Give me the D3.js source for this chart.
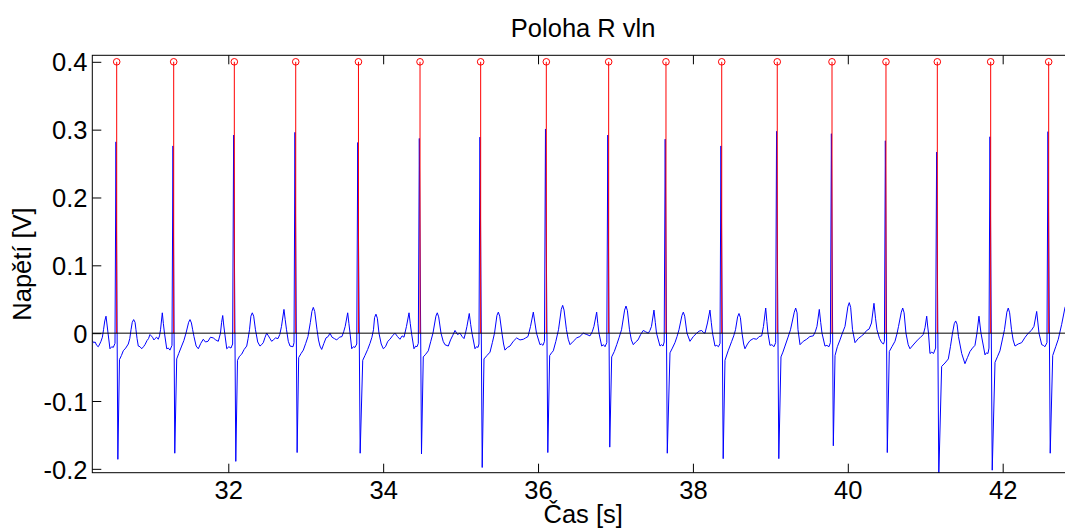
<!DOCTYPE html>
<html>
<head>
<meta charset="utf-8">
<script src="https://cdn.jsdelivr.net/npm/d3@7"></script>
<style>
  html, body { margin: 0; padding: 0; background: #fff; }
  svg { display: block; }
  text { font-family: "Liberation Sans", Arial, Helvetica, sans-serif; fill: #000; }
</style>
</head>
<body>
<svg id="chart" width="1065" height="528"></svg>
<script>
// ECG trace: [time s, voltage V]
const ecgTrace = [
  [30.244,-0.011],[30.262,-0.014],[30.280,-0.013],[30.301,-0.018],[30.321,-0.020],[30.340,-0.016],[30.356,-0.012],[30.374,-0.006],[30.389,0.005],[30.405,0.018],[30.421,0.025],[30.435,0.012],[30.447,0.000],[30.472,-0.023],[30.495,-0.020],[30.515,-0.021],[30.537,-0.015],[30.550,0.282],[30.574,-0.186],
  [30.595,-0.039],[30.620,-0.033],[30.644,-0.026],[30.675,-0.022],[30.709,-0.016],[30.728,-0.008],[30.744,0.005],[30.760,0.016],[30.778,0.020],[30.796,0.016],[30.808,0.005],[30.822,-0.008],[30.838,-0.019],[30.860,-0.020],[30.882,-0.023],[30.905,-0.020],[30.924,-0.017],[30.950,-0.011],[30.970,-0.008],[30.989,-0.002],[31.005,-0.004],[31.021,-0.006],[31.040,-0.010],[31.054,-0.008],[31.075,-0.006],[31.096,-0.009],[31.112,-0.004],[31.125,0.005],[31.148,0.030],[31.162,0.014],[31.176,0.000],[31.205,-0.023],[31.226,-0.022],[31.247,-0.025],[31.273,-0.018],[31.286,0.276],[31.309,-0.177],
  [31.334,-0.038],[31.360,-0.030],[31.398,-0.019],[31.426,-0.011],[31.454,0.000],[31.488,0.016],[31.506,0.020],[31.524,0.015],[31.540,0.005],[31.557,-0.005],[31.585,-0.019],[31.613,-0.023],[31.645,-0.015],[31.677,-0.009],[31.705,-0.013],[31.738,-0.012],[31.770,-0.006],[31.806,-0.007],[31.838,-0.010],[31.871,-0.012],[31.899,0.000],[31.914,0.016],[31.928,0.026],[31.941,0.012],[31.954,0.000],[31.980,-0.023],[32.008,-0.020],[32.035,-0.022],[32.056,-0.016],[32.069,0.292],[32.097,-0.189],
  [32.119,-0.040],[32.145,-0.034],[32.173,-0.031],[32.205,-0.024],[32.238,-0.019],[32.256,-0.008],[32.274,0.005],[32.292,0.025],[32.310,0.030],[32.328,0.025],[32.351,0.005],[32.380,-0.013],[32.409,-0.019],[32.430,-0.017],[32.452,-0.014],[32.475,-0.006],[32.496,0.000],[32.518,-0.004],[32.539,-0.008],[32.560,-0.012],[32.581,-0.010],[32.610,-0.007],[32.642,-0.008],[32.665,-0.002],[32.687,0.010],[32.719,0.035],[32.735,0.020],[32.752,0.005],[32.775,-0.012],[32.797,-0.019],[32.836,-0.020],[32.849,-0.014],[32.861,0.296],[32.889,-0.176],
  [32.909,-0.036],[32.940,-0.030],[32.969,-0.025],[33.000,-0.015],[33.029,-0.005],[33.060,0.016],[33.080,0.032],[33.098,0.038],[33.116,0.032],[33.146,0.005],[33.165,-0.010],[33.184,-0.019],[33.206,-0.024],[33.235,-0.015],[33.262,-0.007],[33.290,-0.005],[33.313,0.000],[33.340,-0.006],[33.370,-0.008],[33.400,-0.010],[33.435,-0.006],[33.468,-0.005],[33.490,0.002],[33.510,0.010],[33.542,0.030],[33.558,0.014],[33.572,0.000],[33.594,-0.023],[33.615,-0.020],[33.636,-0.021],[33.659,-0.016],[33.672,0.281],[33.703,-0.177],
  [33.736,-0.040],[33.765,-0.033],[33.800,-0.024],[33.830,-0.015],[33.855,-0.006],[33.875,0.005],[33.889,0.023],[33.907,0.028],[33.925,0.022],[33.946,0.000],[33.975,-0.016],[34.002,-0.023],[34.030,-0.020],[34.060,-0.012],[34.088,-0.009],[34.120,-0.004],[34.153,0.000],[34.185,-0.005],[34.217,-0.009],[34.245,-0.004],[34.269,-0.006],[34.301,0.010],[34.334,0.030],[34.350,0.014],[34.366,0.000],[34.398,-0.023],[34.420,-0.019],[34.437,-0.020],[34.454,-0.015],[34.467,0.287],[34.495,-0.178],
  [34.518,-0.035],[34.550,-0.031],[34.583,-0.026],[34.615,-0.012],[34.643,0.000],[34.681,0.025],[34.699,0.030],[34.717,0.024],[34.747,0.000],[34.775,-0.012],[34.798,-0.017],[34.841,-0.019],[34.870,-0.010],[34.900,-0.003],[34.928,0.004],[34.960,-0.002],[34.992,0.000],[35.020,-0.005],[35.044,-0.008],[35.063,0.000],[35.082,0.010],[35.112,0.029],[35.130,0.013],[35.147,0.000],[35.186,-0.023],[35.205,-0.020],[35.225,-0.021],[35.237,-0.016],[35.250,0.289],[35.279,-0.198],
  [35.302,-0.038],[35.340,-0.033],[35.380,-0.028],[35.410,-0.014],[35.438,0.000],[35.469,0.026],[35.487,0.031],[35.505,0.025],[35.534,0.000],[35.555,-0.016],[35.573,-0.025],[35.605,-0.021],[35.638,-0.019],[35.680,-0.012],[35.724,-0.007],[35.767,-0.010],[35.810,-0.009],[35.840,-0.007],[35.870,-0.005],[35.903,0.010],[35.939,0.031],[35.960,0.015],[35.980,0.000],[36.025,-0.017],[36.045,-0.016],[36.064,-0.018],[36.083,-0.012],[36.096,0.301],[36.126,-0.176],
  [36.150,-0.033],[36.175,-0.029],[36.197,-0.026],[36.230,-0.012],[36.264,0.005],[36.300,0.035],[36.318,0.041],[36.336,0.034],[36.367,0.005],[36.390,-0.009],[36.413,-0.017],[36.455,-0.012],[36.499,-0.007],[36.540,-0.005],[36.584,0.000],[36.630,-0.002],[36.671,-0.004],[36.700,0.002],[36.722,0.010],[36.757,0.031],[36.772,0.014],[36.787,0.000],[36.822,-0.019],[36.845,-0.017],[36.865,-0.020],[36.888,-0.014],[36.901,0.292],[36.926,-0.168],
  [36.951,-0.035],[36.985,-0.027],[37.016,-0.017],[37.048,-0.006],[37.078,0.005],[37.118,0.034],[37.136,0.040],[37.154,0.033],[37.181,0.005],[37.205,-0.010],[37.230,-0.017],[37.260,-0.013],[37.291,-0.010],[37.325,-0.002],[37.359,0.004],[37.390,0.002],[37.424,0.000],[37.445,0.004],[37.465,0.010],[37.497,0.034],[37.514,0.016],[37.530,0.000],[37.575,-0.019],[37.595,-0.017],[37.614,-0.019],[37.629,-0.013],[37.642,0.286],[37.669,-0.177],
  [37.704,-0.029],[37.735,-0.022],[37.768,-0.014],[37.795,-0.005],[37.820,0.005],[37.858,0.026],[37.876,0.031],[37.894,0.025],[37.923,0.000],[37.962,-0.012],[38.005,-0.005],[38.049,0.000],[38.080,0.003],[38.113,0.004],[38.135,0.001],[38.156,0.000],[38.188,0.015],[38.220,0.034],[38.237,0.016],[38.253,0.000],[38.285,-0.019],[38.308,-0.018],[38.330,-0.020],[38.350,-0.015],[38.362,0.276],[38.391,-0.185],
  [38.414,-0.040],[38.455,-0.026],[38.501,-0.012],[38.527,-0.004],[38.550,0.005],[38.577,0.024],[38.595,0.029],[38.613,0.023],[38.634,0.000],[38.655,-0.016],[38.672,-0.023],[38.705,-0.016],[38.737,-0.011],[38.780,-0.008],[38.823,-0.009],[38.855,-0.005],[38.888,-0.004],[38.911,0.010],[38.940,0.037],[38.955,0.017],[38.969,0.000],[38.995,-0.018],[39.020,-0.017],[39.047,-0.020],[39.068,-0.014],[39.080,0.2975],[39.109,-0.185],
  [39.137,-0.035],[39.162,-0.028],[39.189,-0.019],[39.225,-0.007],[39.260,0.005],[39.309,0.031],[39.327,0.037],[39.345,0.030],[39.357,0.005],[39.383,-0.017],[39.425,-0.012],[39.469,-0.009],[39.510,-0.005],[39.554,-0.004],[39.580,0.002],[39.602,0.010],[39.632,0.035],[39.650,0.016],[39.667,0.000],[39.705,-0.019],[39.730,-0.018],[39.757,-0.020],[39.775,-0.014],[39.788,0.294],[39.813,-0.166],
  [39.835,-0.033],[39.865,-0.020],[39.899,-0.010],[39.930,0.000],[39.964,0.010],[40.001,0.039],[40.019,0.045],[40.037,0.038],[40.061,0.005],[40.093,-0.014],[40.135,-0.008],[40.179,-0.004],[40.210,-0.001],[40.244,0.004],[40.275,0.006],[40.306,0.015],[40.338,0.044],[40.358,0.022],[40.377,0.005],[40.410,-0.008],[40.438,-0.014],[40.461,-0.016],[40.473,-0.012],[40.485,0.2836],[40.510,-0.176],
  [40.536,-0.027],[40.570,-0.020],[40.609,-0.012],[40.635,-0.001],[40.655,0.010],[40.691,0.031],[40.709,0.037],[40.727,0.030],[40.751,0.000],[40.780,-0.017],[40.803,-0.023],[40.855,-0.016],[40.910,-0.009],[40.940,-0.006],[40.975,-0.002],[40.997,0.008],[41.019,0.025],[41.030,0.012],[41.042,0.000],[41.061,-0.030],[41.085,-0.028],[41.107,-0.030],[41.134,-0.022],[41.147,0.267],[41.175,-0.210],
  [41.212,-0.049],[41.255,-0.044],[41.298,-0.038],[41.325,-0.020],[41.352,0.000],[41.375,0.014],[41.393,0.018],[41.411,0.013],[41.429,-0.005],[41.471,-0.030],[41.513,-0.045],[41.545,-0.036],[41.578,-0.027],[41.610,-0.022],[41.642,-0.018],[41.668,0.000],[41.694,0.025],[41.707,0.012],[41.720,0.000],[41.772,-0.032],[41.790,-0.029],[41.810,-0.030],[41.823,-0.022],[41.836,0.2895],[41.865,-0.202],
  [41.901,-0.043],[41.935,-0.034],[41.965,-0.026],[41.995,-0.010],[42.023,0.005],[42.054,0.031],[42.072,0.037],[42.090,0.030],[42.114,0.005],[42.135,-0.010],[42.159,-0.019],[42.200,-0.016],[42.245,-0.014],[42.290,-0.006],[42.331,0.000],[42.370,0.004],[42.404,0.010],[42.439,0.032],[42.455,0.015],[42.469,0.000],[42.504,-0.017],[42.525,-0.018],[42.546,-0.020],[42.572,-0.014],[42.585,0.297],[42.614,-0.177],
  [42.646,-0.033],[42.685,-0.020],[42.718,-0.009],[42.762,0.013],[42.805,0.038],[42.830,0.044],[42.856,0.046],[42.880,0.040],[42.908,0.030]
];

// Detected R-wave positions (s) and the stem height used to mark them
const rPeakTimes = [30.559, 31.295, 32.078, 32.871, 33.681, 34.476, 35.259, 36.107, 36.912,
                    37.652, 38.372, 39.089, 39.796, 40.493, 41.156, 41.845, 42.594];
const stemLevel = 0.4;

const xTicks = [32, 34, 36, 38, 40, 42];
const yTicks = [-0.2, -0.1, 0, 0.1, 0.2, 0.3, 0.4];
const yTickLabels = ["-0.2", "-0.1", "0", "0.1", "0.2", "0.3", "0.4"];
const xDomain = [30.244, 42.921];
const yDomain = [-0.2057, 0.4096];

const titleText = "Poloha R vln";
const xLabelText = "Čas [s]";
const yLabelText = "Napětí [V]";

// Layout
const plot = { left: 92.3, top: 55.3, right: 1074, bottom: 472.7 };
const W = plot.right - plot.left, H = plot.bottom - plot.top;
const fontSize = 25.5;

const svg = d3.select("#chart");
svg.append("rect").attr("width", 1065).attr("height", 528).attr("fill", "#fff");

const x = d3.scaleLinear().domain(xDomain).range([0, W]);
const y = d3.scaleLinear().domain(yDomain).range([H, 0]);

const g = svg.append("g").attr("transform", `translate(${plot.left},${plot.top})`);

g.append("defs").append("clipPath").attr("id", "plotClip")
  .append("rect").attr("width", W).attr("height", H);

const data = g.append("g").attr("clip-path", "url(#plotClip)");

// ECG signal
data.append("path")
  .datum(ecgTrace)
  .attr("fill", "none")
  .attr("stroke", "#0000ff")
  .attr("stroke-width", 1)
  .attr("stroke-linejoin", "round")
  .attr("d", d3.line().x(d => x(d[0])).y(d => y(d[1])));

// R-wave stems
data.selectAll("line.stem")
  .data(rPeakTimes)
  .join("line")
  .attr("class", "stem")
  .attr("x1", d => x(d)).attr("x2", d => x(d))
  .attr("y1", y(0)).attr("y2", y(stemLevel))
  .attr("stroke", "#ff0000")
  .attr("stroke-width", 1);

data.selectAll("circle.mark")
  .data(rPeakTimes)
  .join("circle")
  .attr("class", "mark")
  .attr("cx", d => x(d)).attr("cy", y(stemLevel))
  .attr("r", 3.3)
  .attr("fill", "none")
  .attr("stroke", "#ff0000")
  .attr("stroke-width", 1);

// Stem baseline
data.append("line")
  .attr("x1", 0).attr("x2", W)
  .attr("y1", y(0)).attr("y2", y(0))
  .attr("stroke", "#000")
  .attr("stroke-width", 1);

// Axes (ticks pointing inward)
const tickLen = 9;
const xAxisB = d3.axisBottom(x).tickValues(xTicks).tickFormat(d3.format("d"))
  .tickSizeInner(-tickLen).tickSizeOuter(0).tickPadding(0);
const xAxisT = d3.axisTop(x).tickValues(xTicks).tickFormat("")
  .tickSizeInner(-tickLen).tickSizeOuter(0);
const yAxisL = d3.axisLeft(y).tickValues(yTicks).tickFormat((d, i) => yTickLabels[i])
  .tickSizeInner(-tickLen).tickSizeOuter(0).tickPadding(4.8);
const yAxisR = d3.axisRight(y).tickValues(yTicks).tickFormat("")
  .tickSizeInner(-tickLen).tickSizeOuter(0);

const gxB = g.append("g").attr("transform", `translate(0,${H})`).call(xAxisB);
const gxT = g.append("g").call(xAxisT);
const gyL = g.append("g").call(yAxisL);
const gyR = g.append("g").attr("transform", `translate(${W},0)`).call(yAxisR);

[gxB, gxT, gyL, gyR].forEach(a => {
  a.select(".domain").remove();
  a.selectAll(".tick line").attr("stroke", "#000").attr("stroke-width", 1);
  a.selectAll("text").attr("font-size", fontSize).attr("font-family", null).attr("fill", "#000");
});
gxB.selectAll(".tick text").attr("y", 26.8).attr("dy", null);
gyL.selectAll(".tick text").attr("dy", "0.36em");

// Axes box
g.append("rect")
  .attr("x", 0).attr("y", 0).attr("width", W).attr("height", H)
  .attr("fill", "none").attr("stroke", "#000").attr("stroke-width", 1);

// Title and axis labels
svg.append("text")
  .attr("x", plot.left + W / 2).attr("y", 36.7)
  .attr("text-anchor", "middle").attr("font-size", fontSize)
  .text(titleText);

svg.append("text")
  .attr("x", plot.left + W / 2).attr("y", 523)
  .attr("text-anchor", "middle").attr("font-size", fontSize)
  .text(xLabelText);

svg.append("text")
  .attr("transform", `translate(31,${plot.top + H / 2}) rotate(-90)`)
  .attr("text-anchor", "middle").attr("font-size", fontSize)
  .text(yLabelText);
</script>
</body>
</html>
